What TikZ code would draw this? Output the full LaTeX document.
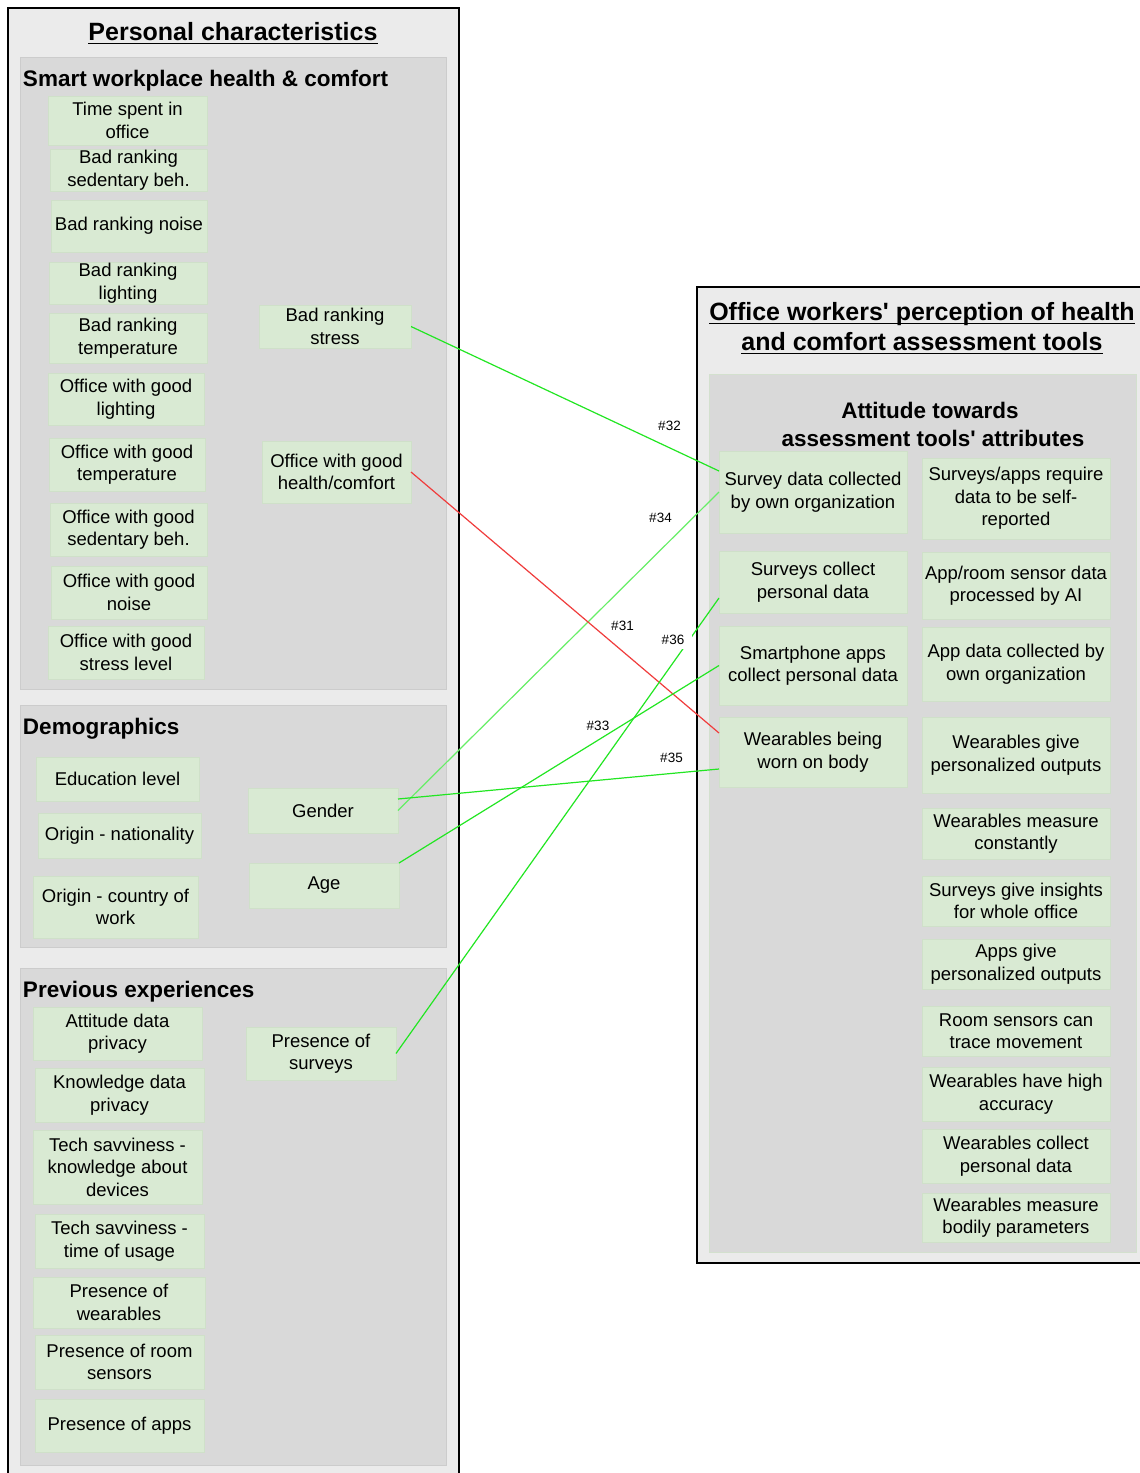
\documentclass[tikz,border=0pt]{standalone}
\usepackage{fontspec}
\setmainfont{Liberation Sans}
\usetikzlibrary{calc}
\definecolor{outerbg}{HTML}{EBEBEB}
\definecolor{panelbg}{HTML}{D9D9D9}
\definecolor{panelln}{HTML}{CCCCCC}
\definecolor{panellng}{HTML}{D3E0CE}
\definecolor{nodebg}{HTML}{D9EAD3}
\definecolor{nodeln}{HTML}{CFE0C9}
\definecolor{lgreen}{HTML}{22E622}
\definecolor{lgreentwo}{HTML}{66EE66}
\definecolor{lred}{HTML}{F03C3C}
\newcommand{\mkbox}[6]{\node[gbox, minimum width={(#4-#2)*1pt}, minimum height={(#5-#3)*1pt}] (#1) at ({(#2+#4)/2},{(#3+#5)/2}) {#6};}
\newcommand{\apos}{\textquotesingle}
\begin{document}
\begin{tikzpicture}[x=1pt,y=-1pt,
  gbox/.style={fill=nodebg, draw=nodeln, line width=0.6pt, inner sep=0pt, outer sep=0pt, align=center, font=\fontsize{18.5}{22.5}\selectfont},
  outerbox/.style={fill=outerbg, draw=black, line width=2.2pt},
  panel/.style={fill=panelbg, draw=panelln, line width=1pt},
  titletext/.style={inner sep=0pt, outer sep=0pt, font=\fontsize{25}{30}\selectfont\bfseries},
  headtext/.style={inner sep=0pt, outer sep=0pt, font=\fontsize{22.5}{28}\selectfont\bfseries},
  uline/.style={line width=1.8pt},
  conn/.style={line width=1.2pt},
  lab/.style={fill=white, inner sep=1pt, font=\fontsize{13.5}{16}\selectfont}]
\useasboundingbox (0,0) rectangle (1140,1473);
\clip (0,0) rectangle (1140,1473);
\fill[white] (0,0) rectangle (1140,1473);

% outer boxes
\draw[outerbox] (8,8) rectangle (459,1495);
\draw[outerbox] (697,287) rectangle (1170,1263);

% panels
\draw[panel] (20,57) rectangle (446,689);
\draw[panel] (20,705) rectangle (446,947);
\draw[panel] (20,968) rectangle (446,1465);
\draw[panel, draw=panellng] (709,374) rectangle (1136,1252);

% titles
\node[titletext, anchor=base] (t1) at (233,40) {Personal characteristics};
\draw[uline] ([yshift=-3.5pt]t1.base west) -- ([yshift=-3.5pt]t1.base east);
\node[titletext, anchor=base] (t2a) at (922,320) {Office workers\apos{} perception of health};
\draw[uline] ([yshift=-3.5pt]t2a.base west) -- ([yshift=-3.5pt]t2a.base east);
\node[titletext, anchor=base] (t2b) at (922,350) {and comfort assessment tools};
\draw[uline] ([yshift=-3.5pt]t2b.base west) -- ([yshift=-3.5pt]t2b.base east);

% headings
\node[headtext, anchor=base west] (h1) at (23,86) {Smart workplace health \& comfort};
\node[headtext, anchor=base west] (h2) at (23,734) {Demographics};
\node[headtext, anchor=base west] (h3) at (23,997) {Previous experiences};
\node[headtext, anchor=base] (h4a) at (930,418) {Attitude towards};
\node[headtext, anchor=base] (h4b) at (933,446) {assessment tools\apos{} attributes};

% panel 1 nodes
\mkbox{tso}{48}{96}{207}{145}{Time spent in\\office}
\mkbox{brsb}{50}{149}{207}{191}{Bad ranking\\sedentary beh.}
\mkbox{brn}{51}{200}{207}{252}{Bad ranking noise}
\mkbox{brl}{49}{262}{207}{304}{Bad ranking\\lighting}
\mkbox{brt}{49}{313}{207}{363}{Bad ranking\\temperature}
\mkbox{ogl}{48}{373}{204}{425}{Office with good\\lighting}
\mkbox{ogt}{49}{438}{205}{491}{Office with good\\temperature}
\mkbox{ogs}{50}{503}{207}{556}{Office with good\\sedentary beh.}
\mkbox{ogn}{51}{566}{207}{619}{Office with good\\noise}
\mkbox{ogsl}{48}{626}{204}{679}{Office with good\\stress level}
\mkbox{brs}{259}{305}{411}{348}{Bad ranking\\stress}
\mkbox{ogh}{262}{441}{411}{503}{Office with good\\health/comfort}

% demographics
\mkbox{edu}{36}{757}{199}{801}{Education level}
\mkbox{onat}{38}{813}{201}{858}{Origin - nationality}
\mkbox{ocw}{33}{876}{198}{938}{Origin - country of\\work}
\mkbox{gen}{248}{788}{398}{833}{Gender}
\mkbox{age}{249}{863}{399}{908}{Age}

% previous experiences
\mkbox{adp}{33}{1007}{202}{1060}{Attitude data\\privacy}
\mkbox{kdp}{35}{1068}{204}{1122}{Knowledge data\\privacy}
\mkbox{tskd}{33}{1130}{202}{1204}{Tech savviness -\\knowledge about\\devices}
\mkbox{tstu}{35}{1214}{204}{1268}{Tech savviness -\\time of usage}
\mkbox{pow}{33}{1277}{205}{1328}{Presence of\\wearables}
\mkbox{pors}{35}{1335}{204}{1389}{Presence of room\\sensors}
\mkbox{poa}{35}{1399}{204}{1452}{Presence of apps}
\mkbox{pos}{246}{1027}{396}{1080}{Presence of\\surveys}

% right column 1
\mkbox{sdc}{719}{451}{907}{533}{Survey data collected\\by own organization}
\mkbox{scp}{719}{551}{907}{613}{Surveys collect\\personal data}
\mkbox{sap}{719}{626}{907}{705}{Smartphone apps\\collect personal data}
\mkbox{wob}{719}{717}{907}{787}{Wearables being\\worn on body}

% right column 2
\mkbox{sar}{922}{458}{1110}{539}{Surveys/apps require\\data to be self-\\reported}
\mkbox{rsai}{922}{552}{1110}{619}{App/room sensor data\\processed by AI}
\mkbox{adc}{922}{627}{1110}{701}{App data collected by\\own organization}
\mkbox{wgp}{922}{717}{1110}{793}{Wearables give\\personalized outputs}
\mkbox{wmc}{922}{808}{1110}{859}{Wearables measure\\constantly}
\mkbox{sgi}{922}{876}{1110}{926}{Surveys give insights\\for whole office}
\mkbox{agp}{922}{939}{1110}{989}{Apps give\\personalized outputs}
\mkbox{rstm}{922}{1006}{1110}{1056}{Room sensors can\\trace movement}
\mkbox{wha}{922}{1067}{1110}{1121}{Wearables have high\\accuracy}
\mkbox{wcp}{922}{1129}{1110}{1183}{Wearables collect\\personal data}
\mkbox{wmb}{922}{1193}{1110}{1242}{Wearables measure\\bodily parameters}

% connectors
\draw[conn, lgreen] (brs.east) -- ([yshift=21pt]sdc.west);
\draw[conn, lgreentwo] (gen.east) -- (sdc.west);
\draw[conn, lgreen] ([yshift=11.5pt]gen.east) -- ([yshift=-17pt]wob.west);
\draw[conn, lred] (ogh.east) -- ([yshift=19pt]wob.west);
\draw[conn, lgreen] (pos.east) -- ([yshift=-16pt]scp.west);
\draw[conn, lgreen] (age.north east) -- (sap.west);

% labels
\node[lab] (l32) at (669.5,426) {\#32};
\node[lab] (l34) at (660.5,517.5) {\#34};
\node[lab] (l31) at (622.5,625.5) {\#31};
\node[lab, inner xsep=8pt, inner ysep=4pt] (l36) at (673,640) {\#36};
\node[lab] (l33) at (598,725.5) {\#33};
\node[lab] (l35) at (671.5,757.5) {\#35};
\end{tikzpicture}
\end{document}
